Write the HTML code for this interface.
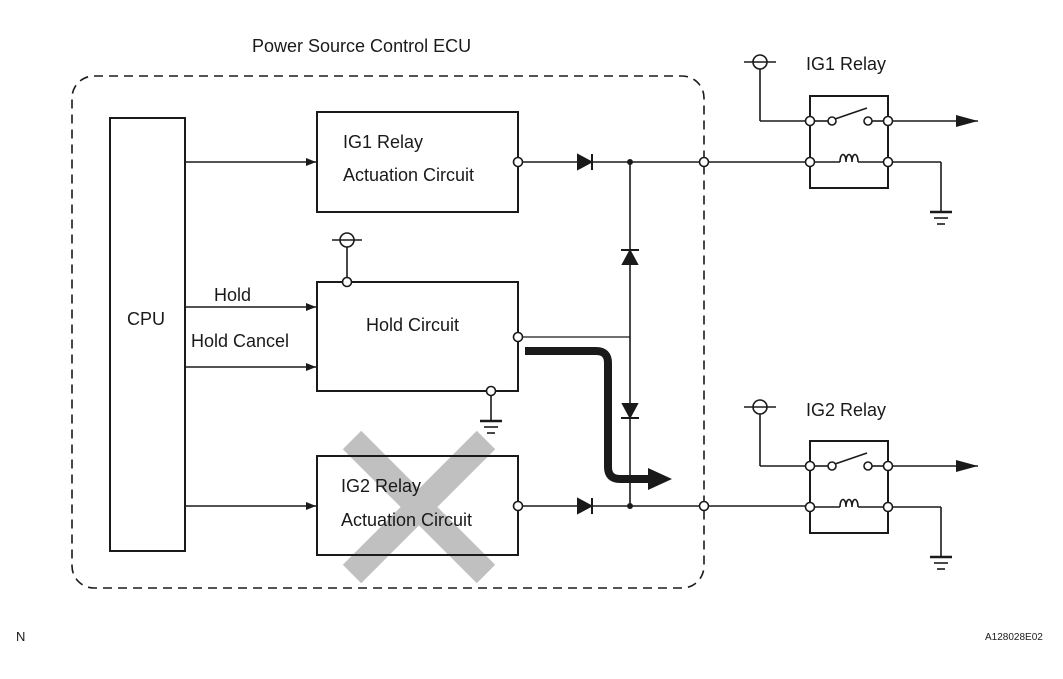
<!DOCTYPE html>
<html><head><meta charset="utf-8"><style>
body{margin:0;background:#fff}
svg{display:block}
text{font-family:"Liberation Sans",sans-serif;fill:#1a1a1a}
</style></head><body>
<svg width="1063" height="679" viewBox="0 0 1063 679" xmlns="http://www.w3.org/2000/svg">
<defs>
<marker id="ar" markerWidth="10" markerHeight="8" refX="10" refY="4" orient="auto" markerUnits="userSpaceOnUse"><path d="M0,0 L10,4 L0,8 z" fill="#1a1a1a"/></marker>
<marker id="ar2" markerWidth="24" markerHeight="12" refX="22" refY="6" orient="auto" markerUnits="userSpaceOnUse"><path d="M0,0 L22,6 L0,12 z" fill="#1a1a1a"/></marker>
</defs>
<g stroke="#1a1a1a" stroke-width="2" fill="none">
<line x1="352" y1="440" x2="486" y2="574" stroke="#c0c0c0" stroke-width="26"/>
<line x1="486" y1="440" x2="352" y2="574" stroke="#c0c0c0" stroke-width="26"/>
<rect x="72" y="76" width="632" height="512" rx="22" stroke-dasharray="9,6" stroke-width="1.6"/>
<rect x="110" y="118" width="75" height="433"/>
<rect x="317" y="112" width="201" height="100"/>
<rect x="317" y="282" width="201" height="109"/>
<rect x="317" y="456" width="201" height="99"/>
<line x1="185" y1="162" x2="316" y2="162" stroke-width="1.6" marker-end="url(#ar)"/>
<line x1="185" y1="307" x2="316" y2="307" stroke-width="1.6" marker-end="url(#ar)"/>
<line x1="185" y1="367" x2="316" y2="367" stroke-width="1.6" marker-end="url(#ar)"/>
<line x1="185" y1="506" x2="316" y2="506" stroke-width="1.6" marker-end="url(#ar)"/>
<line x1="522" y1="162" x2="810" y2="162" stroke-width="1.6"/>
<line x1="522" y1="506" x2="810" y2="506" stroke-width="1.6"/>
<line x1="630" y1="162" x2="630" y2="506" stroke-width="1.6"/>
<line x1="522" y1="337" x2="630" y2="337" stroke-width="1.2"/>
<line x1="347" y1="247" x2="347" y2="280" stroke-width="1.6"/>
<circle cx="347" cy="240" r="7" stroke-width="1.6"/>
<line x1="332" y1="240" x2="362" y2="240" stroke-width="1.6"/>
<line x1="491" y1="393" x2="491" y2="420" stroke-width="1.6"/>
<line x1="480" y1="421" x2="502" y2="421" stroke-width="2.4"/>
<line x1="484" y1="427" x2="498" y2="427" stroke-width="1.6"/>
<line x1="487" y1="433" x2="495" y2="433" stroke-width="1.6"/>
<path d="M525,351 L596,351 Q608,351 608,363 L608,467 Q608,479 620,479 L652,479" stroke-width="8"/>
<g id="r1">
<rect x="810" y="96" width="78" height="92" stroke-width="2"/>
<line x1="888" y1="121" x2="978" y2="121" stroke-width="1.6" marker-end="url(#ar2)"/>
<line x1="810" y1="121" x2="760" y2="121" stroke-width="1.6"/>
<line x1="760" y1="121" x2="760" y2="69" stroke-width="1.6"/>
<circle cx="760" cy="62" r="7" stroke-width="1.6"/>
<line x1="744" y1="62" x2="776" y2="62" stroke-width="1.6"/>
<line x1="815" y1="121" x2="829" y2="121" stroke-width="1.6"/>
<line x1="835" y1="119" x2="867" y2="108" stroke-width="1.6"/>
<line x1="871" y1="121" x2="884" y2="121" stroke-width="1.6"/>
<line x1="815" y1="162" x2="840" y2="162" stroke-width="1.6"/>
<path d="M840,162 c0,-10 6,-10 6,0 c0,-10 6,-10 6,0 c0,-10 6,-10 6,0" stroke-width="1.6"/>
<line x1="858" y1="162" x2="884" y2="162" stroke-width="1.6"/>
<line x1="888" y1="162" x2="941" y2="162" stroke-width="1.6"/>
<line x1="941" y1="162" x2="941" y2="211" stroke-width="1.6"/>
<line x1="930" y1="212" x2="952" y2="212" stroke-width="2.4"/>
<line x1="934" y1="218" x2="948" y2="218" stroke-width="1.6"/>
<line x1="937" y1="224" x2="945" y2="224" stroke-width="1.6"/>
</g>
<use href="#r1" y="345"/>
</g>
<path d="M648,468 L672,479 L648,490 z" fill="#1a1a1a"/>
<g fill="#fff" stroke="#1a1a1a" stroke-width="1.6">
<circle cx="518" cy="162" r="4.5"/><circle cx="518" cy="337" r="4.5"/><circle cx="518" cy="506" r="4.5"/>
<circle cx="347" cy="282" r="4.5"/><circle cx="491" cy="391" r="4.5"/>
<circle cx="704" cy="162" r="4.5"/><circle cx="704" cy="506" r="4.5"/>
<g id="t1"><circle cx="810" cy="121" r="4.5"/><circle cx="888" cy="121" r="4.5"/><circle cx="810" cy="162" r="4.5"/><circle cx="888" cy="162" r="4.5"/><circle cx="832" cy="121" r="4"/><circle cx="868" cy="121" r="4"/></g>
<use href="#t1" y="345"/>
</g>
<g fill="#1a1a1a" stroke="#1a1a1a" stroke-width="2">
<path d="M578,155 L591,162 L578,169 z"/><line x1="592" y1="154" x2="592" y2="170"/>
<path d="M578,499 L591,506 L578,513 z"/><line x1="592" y1="498" x2="592" y2="514"/>
<path d="M623,264 L630,251 L637,264 z"/><line x1="621" y1="250" x2="639" y2="250"/>
<path d="M623,404 L630,417 L637,404 z"/><line x1="621" y1="418" x2="639" y2="418"/>
<circle cx="630" cy="162" r="3" stroke="none"/><circle cx="630" cy="506" r="3" stroke="none"/>
</g>
<text x="252" y="52" font-size="18">Power Source Control ECU</text>
<text x="343" y="148" font-size="18">IG1 Relay</text>
<text x="343" y="181" font-size="18">Actuation Circuit</text>
<text x="366" y="331" font-size="18">Hold Circuit</text>
<text x="341" y="492" font-size="18">IG2 Relay</text>
<text x="341" y="526" font-size="18">Actuation Circuit</text>
<text x="127" y="325" font-size="18">CPU</text>
<text x="214" y="301" font-size="18">Hold</text>
<text x="191" y="347" font-size="18">Hold Cancel</text>
<text x="806" y="70" font-size="18">IG1 Relay</text>
<text x="806" y="416" font-size="18">IG2 Relay</text>
<text x="16" y="641" font-size="13">N</text>
<text x="985" y="640" font-size="10">A128028E02</text>
</svg>
</body></html>
